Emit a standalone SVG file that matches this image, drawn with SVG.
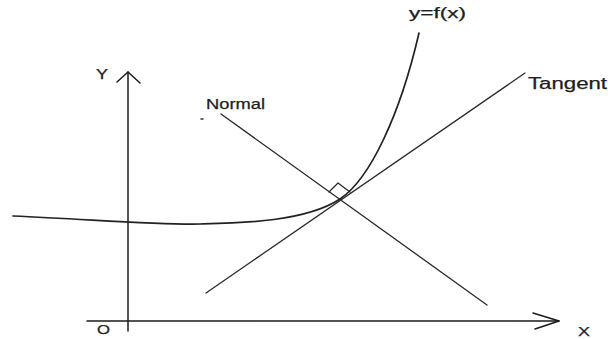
<svg xmlns="http://www.w3.org/2000/svg" width="608" height="339" viewBox="0 0 608 339">
<style>
.ln{fill:none;stroke:#2a2a2a;stroke-width:1.3;stroke-linecap:round;stroke-linejoin:round}
.ax{fill:none;stroke:#1a1a1a;stroke-width:1.5;stroke-linecap:round;stroke-linejoin:round}
.cv{fill:none;stroke:#222;stroke-width:1.7;stroke-linecap:round}
.t{font-family:"Liberation Sans",Arial,sans-serif;fill:#1e1e1e;stroke:#1e1e1e;stroke-width:0.25}
</style>
<rect width="608" height="339" fill="#fff"/>
<g id="connectors">
<path class="ax" d="M128,331 V72"/>
<path class="ax" d="M117,82 L128,72 L140,83"/>
<path class="ax" d="M87,321 H559"/>
<path class="ax" d="M533,313 L559,321 L535,329"/>
<path id="tangent" class="ln" d="M206,293 L525,73"/>
<path id="normal" class="ln" d="M221,114 L487,305"/>
<path id="rightangle" class="ln" d="M329,192 L338,183 L350,192"/>
<path id="curve" class="cv" d="M13,216 C100,220 160,225 200,224 C240,223 305,222 340,199 C370,179 400,115 419,33"/>
<path class="ln" d="M201,119 H203" stroke="#777"/>
</g>
<g id="label-y"><text class="t" x="96" y="79" font-size="14" textLength="12" lengthAdjust="spacingAndGlyphs">Y</text></g>
<g id="label-o"><text class="t" x="97" y="334" font-size="13" textLength="13" lengthAdjust="spacingAndGlyphs">O</text></g>
<g id="label-x"><text class="t" x="578" y="336" font-size="13" textLength="12" lengthAdjust="spacingAndGlyphs">X</text></g>
<g id="label-normal"><text class="t" x="206" y="109" font-size="14" textLength="59" lengthAdjust="spacingAndGlyphs">Normal</text></g>
<g id="label-tangent"><text class="t" x="528" y="89" font-size="16" textLength="79" lengthAdjust="spacingAndGlyphs">Tangent</text></g>
<g id="label-fx"><text class="t" x="409" y="18" font-size="14" textLength="57" lengthAdjust="spacingAndGlyphs">y=f(x)</text></g>
</svg>
